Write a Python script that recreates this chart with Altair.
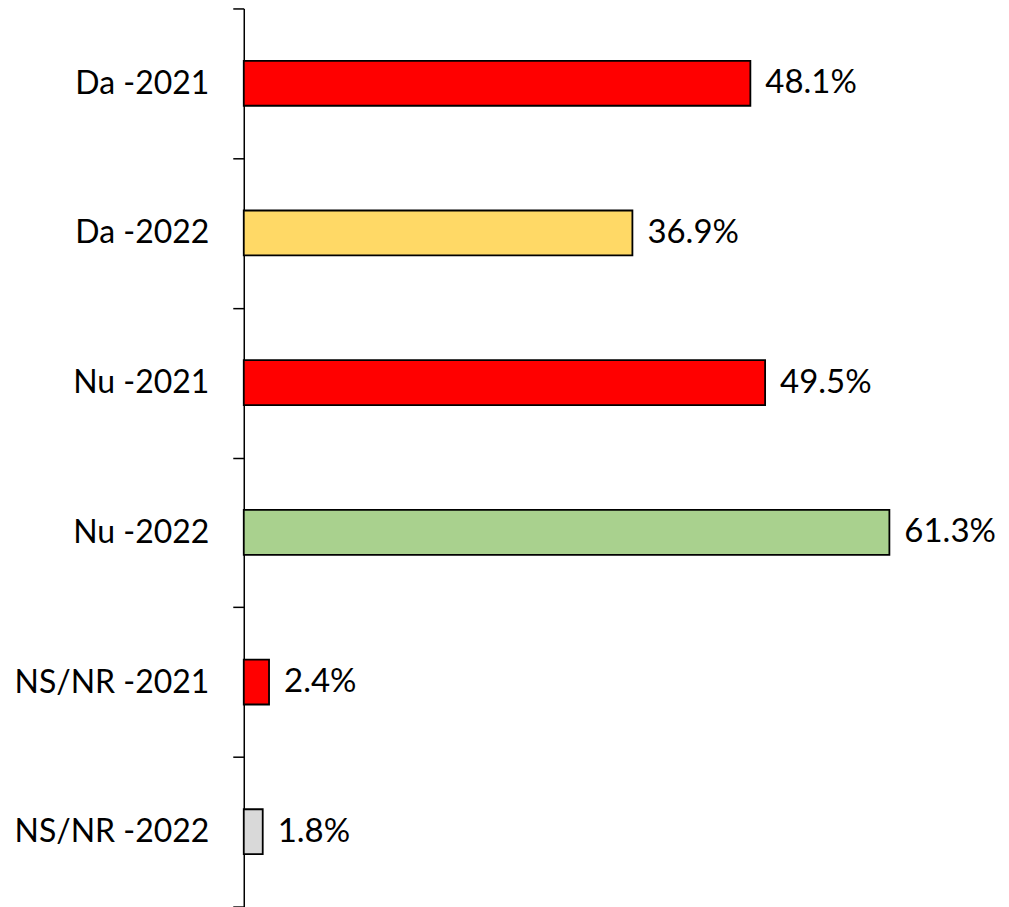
import altair as alt
import pandas as pd

categories = ["Da -2021", "Da -2022", "Nu -2021", "Nu -2022", "NS/NR -2021", "NS/NR -2022"]
values = [48.1, 36.9, 49.5, 61.3, 2.4, 1.8]
labels = ["48.1%", "36.9%", "49.5%", "61.3%", "2.4%", "1.8%"]
colors = ["#FF0000", "#FFD966", "#FF0000", "#A9D18E", "#FF0000", "#D9D9D9"]

df = pd.DataFrame({"cat": categories, "val": values, "lab": labels})

FONT = "Lato"
FS = 32

yscale = alt.Scale(domain=categories, paddingInner=0, paddingOuter=0)
y = alt.Y("cat:N", sort=categories, title=None, scale=yscale,
          axis=alt.Axis(tickBand="extent", tickSize=11, tickColor="black", tickWidth=1.5,
                        domainColor="black", domainWidth=1.5, labelPadding=24,
                        labelFont=FONT, labelFontSize=FS, labelColor="black",
                        labelLimit=400))
x = alt.X("val:Q", scale=alt.Scale(domain=[0, 70], nice=False), axis=None)

bars = alt.Chart(df).mark_bar(size=45, stroke="black", strokeWidth=1.8).encode(
    y=y, x=x,
    color=alt.Color("cat:N", scale=alt.Scale(domain=categories, range=colors), legend=None),
)
text = alt.Chart(df).mark_text(align="left", baseline="middle", dx=15, font=FONT,
                               fontSize=33, color="black").encode(
    y=alt.Y("cat:N", sort=categories, scale=yscale), x=x, text="lab:N")

chart = (bars + text).properties(
    width=738, height=899,
    autosize=alt.AutoSizeParams(type="none"),
    padding={"left": 236, "top": 0, "right": 20, "bottom": 0},
).configure_view(stroke=None)

chart.save("out.html", embed_options={"renderer": "svg", "actions": False})
